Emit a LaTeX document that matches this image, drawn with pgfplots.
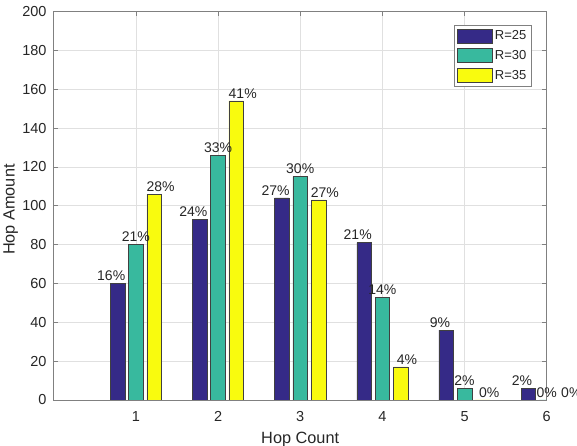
\documentclass[border=0pt]{standalone}
\usepackage{pgfplots}
\pgfplotsset{compat=1.18}
\usepackage{pgfplotstable}
\usepackage{fontspec}
\setmainfont{Liberation Sans}
\definecolor{cA}{HTML}{352A87}
\definecolor{cB}{HTML}{38B99E}
\definecolor{cC}{HTML}{F9FB0E}
\definecolor{txt}{HTML}{262626}
\definecolor{axc}{HTML}{808080}

\pgfplotstableread{
x a b c la lb lc
1 60 80 106 16 21 28
2 93 126 154 24 33 41
3 104 115 103 27 30 27
4 81 53 17 21 14 4
5 36 6 0 9 2 0
6 6 0 0 2 0 0
}\data

\pgfplotsset{barleg/.style={legend image code/.code={\draw[##1] (0pt,-7pt) rectangle (35pt,7pt);}}}

\begin{document}
\begin{tikzpicture}
\begin{axis}[
  name=ax,
  scale only axis, width=493pt, height=388.5pt,
  xmin=0, xmax=6, ymin=0, ymax=200,
  xtick={1,2,3,4,5,6}, ytick={0,20,...,200},
  ybar, bar width=14.6pt,
  grid=major, major grid style={color=black!12, line width=0.5pt},
  axis line style={axc, line width=0.6pt},
  tick style={axc, line width=0.6pt}, major tick length=4.5pt, tick align=inside,
  tick label style={font=\fontsize{14.5}{17}\selectfont, text=txt},
  /pgf/number format/assume math mode=true,
  xticklabel style={inner sep=0pt, yshift=-11.5pt},
  yticklabel style={inner sep=0pt, xshift=-7pt},
  xlabel={Hop Count}, ylabel={Hop Amount},
  every axis x label/.style={at={(axis description cs:0.5,-0.101)}, anchor=center,
    font=\fontsize{16.3}{19}\selectfont, text=txt},
  every axis y label/.style={at={(axis description cs:-0.0872,0.49)}, rotate=90, anchor=center,
    font=\fontsize{16.3}{19}\selectfont, text=txt},
  legend style={at={(0.9696,0.9665)}, anchor=north east, draw=axc, fill=white, line width=0.6pt,
    font=\fontsize{13}{15}\selectfont, text=txt, inner xsep=3pt, inner ysep=4pt, row sep=5pt},
  legend cell align=left,
  point meta=explicit symbolic,
  nodes near coords={\pgfplotspointmeta\%},
  every node near coord/.append style={font=\fontsize{14}{16}\selectfont, text=txt, inner sep=0pt, yshift=2.5pt},
]
\addplot[fill=cA, draw=black!75, line width=0.5pt, bar shift=-18.26pt, barleg,
  every node near coord/.append style={xshift=-6.4pt}] table[x=x, y=a, meta=la] {\data};
\addplot[fill=cB, draw=black!75, line width=0.5pt, bar shift=0pt, barleg] table[x=x, y=b, meta=lb] {\data};
\addplot[fill=cC, draw=black!75, line width=0.5pt, bar shift=18.26pt, barleg,
  every node near coord/.append style={xshift=6.4pt}] table[x=x, y=c, meta=lc] {\data};
\legend{R=25,R=30,R=35}
\end{axis}
\pgfresetboundingbox
\path[use as bounding box] ([shift={(-53.7pt,-46pt)}]ax.south west) rectangle ([shift={(30.3pt,11.5pt)}]ax.north east);
\end{tikzpicture}
\end{document}
